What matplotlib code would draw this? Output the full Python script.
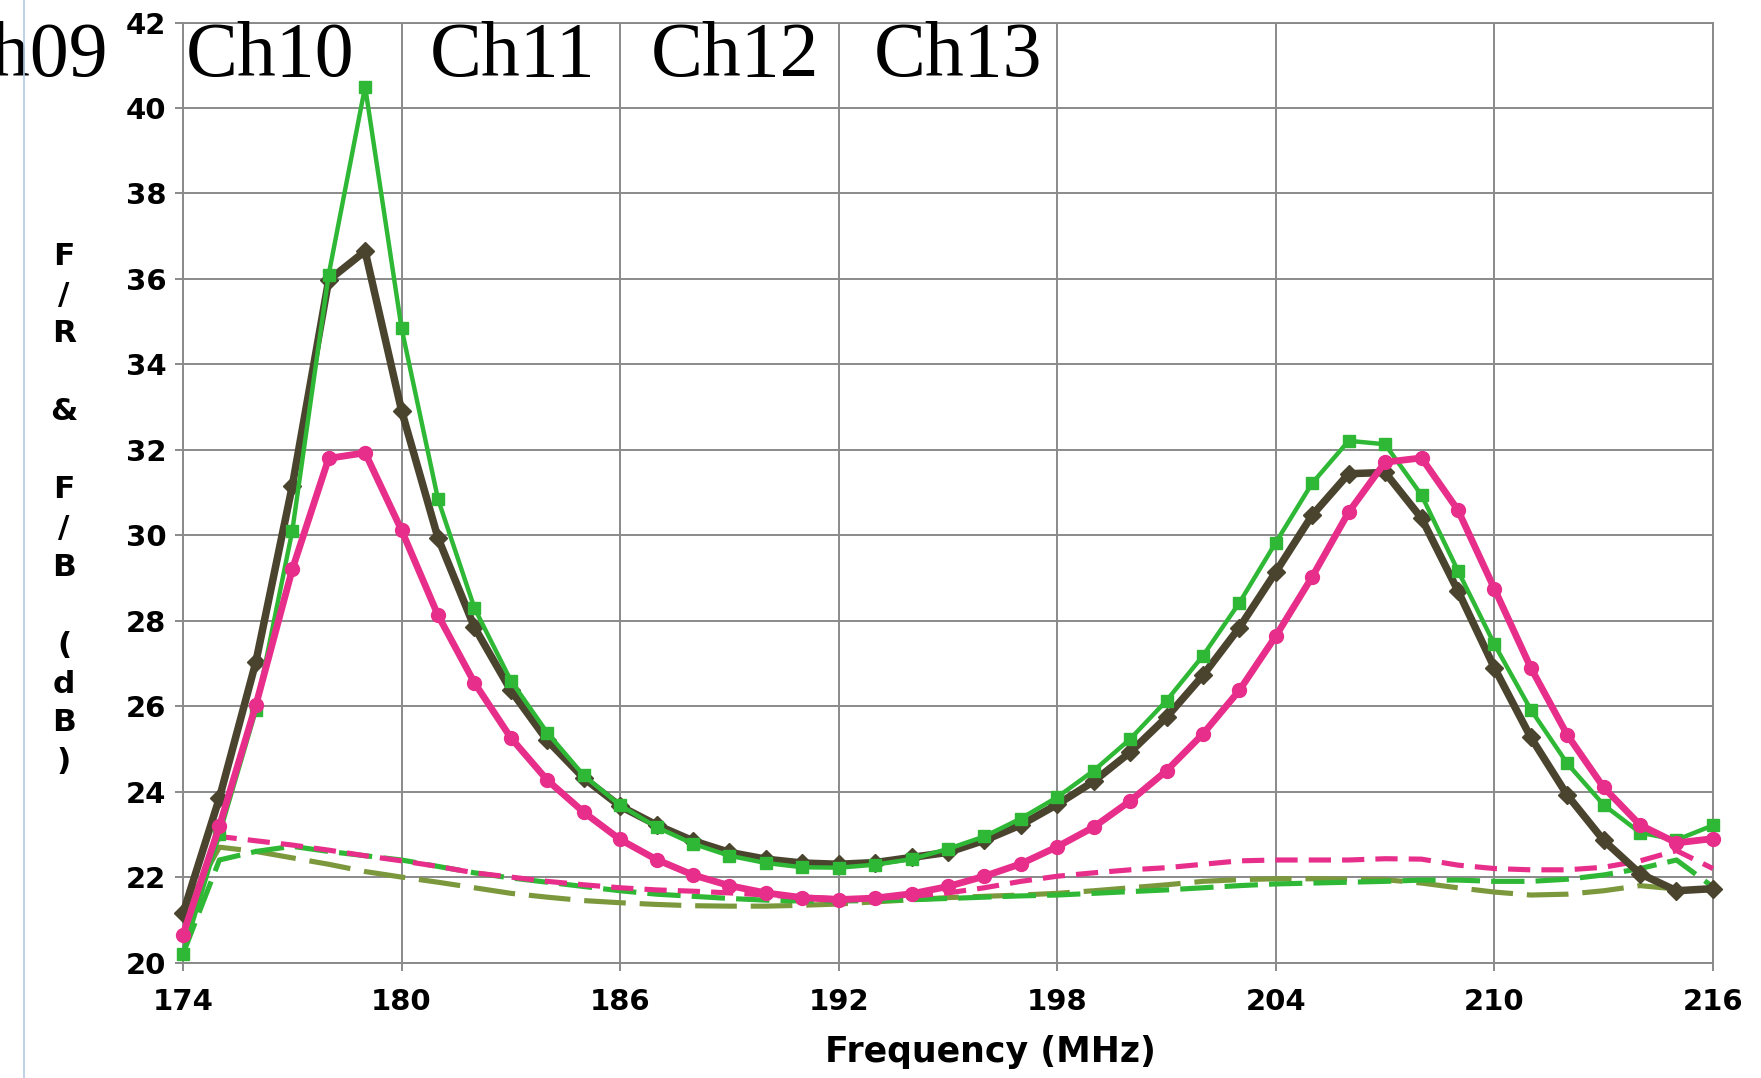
import numpy as np
import matplotlib
matplotlib.use("Agg")
import matplotlib.pyplot as plt
from matplotlib.lines import Line2D

plt.rcParams["font.family"] = ["DejaVu Sans"]
plt.rcParams["lines.scale_dashes"] = False

freq = list(range(174, 217))

# solid traces (markers on every point)
green_solid = [20.2, 23.0, 25.9, 30.1, 36.1, 40.5, 34.85, 30.85, 28.3, 26.6,
               25.38, 24.38, 23.68, 23.17, 22.78, 22.5, 22.33, 22.23, 22.22, 22.29,
               22.42, 22.66, 22.95, 23.37, 23.87, 24.49, 25.23, 26.13, 27.18, 28.42,
               29.83, 31.22, 32.21, 32.13, 30.94, 29.17, 27.45, 25.92, 24.66, 23.69,
               23.04, 22.87, 23.21]
dark_solid = [21.15, 23.85, 27.03, 31.15, 35.97, 36.65, 32.92, 29.94, 27.85, 26.37,
              25.2, 24.32, 23.66, 23.22, 22.85, 22.58, 22.42, 22.33, 22.3, 22.34,
              22.46, 22.58, 22.86, 23.22, 23.7, 24.24, 24.92, 25.74, 26.72, 27.84,
              29.14, 30.47, 31.44, 31.47, 30.4, 28.7, 26.9, 25.27, 23.92, 22.86,
              22.08, 21.68, 21.73]
pink_solid = [20.65, 23.19, 26.02, 29.2, 31.8, 31.93, 30.12, 28.13, 26.55, 25.26,
              24.27, 23.52, 22.88, 22.41, 22.05, 21.8, 21.63, 21.52, 21.47, 21.51,
              21.61, 21.78, 22.02, 22.31, 22.71, 23.17, 23.78, 24.49, 25.35, 26.37,
              27.64, 29.03, 30.54, 31.71, 31.81, 30.59, 28.75, 26.9, 25.33, 24.1,
              23.22, 22.8, 22.9]

# dashed traces
pink_dashed = [20.65, 22.95, 22.85, 22.75, 22.63, 22.5, 22.38, 22.25, 22.1, 22.0,
               21.9, 21.82, 21.75, 21.7, 21.67, 21.63, 21.58, 21.53, 21.5, 21.5,
               21.55, 21.63, 21.75, 21.9, 22.02, 22.1, 22.17, 22.22, 22.3, 22.38,
               22.4, 22.4, 22.4, 22.43, 22.42, 22.28, 22.2, 22.17, 22.17, 22.23,
               22.38, 22.62, 22.2]
green_dashed = [20.2, 22.4, 22.6, 22.72, 22.6, 22.5, 22.4, 22.25, 22.1, 21.98,
                21.88, 21.78, 21.68, 21.6, 21.55, 21.5, 21.46, 21.44, 21.44, 21.45,
                21.47, 21.5, 21.53, 21.56, 21.58, 21.62, 21.66, 21.7, 21.75, 21.8,
                21.84, 21.86, 21.88, 21.9, 21.93, 21.93, 21.9, 21.9, 21.95, 22.05,
                22.2, 22.4, 21.77]
olive_dashed = [21.15, 22.7, 22.6, 22.45, 22.3, 22.13, 22.0, 21.88, 21.75, 21.62,
                21.53, 21.45, 21.4, 21.36, 21.33, 21.32, 21.32, 21.34, 21.37, 21.42,
                21.47, 21.52, 21.55, 21.58, 21.62, 21.68, 21.75, 21.82, 21.9, 21.94,
                21.96, 21.96, 21.95, 21.94, 21.86, 21.75, 21.65, 21.58, 21.6, 21.68,
                21.8, 21.72, 21.7]

channels = ["Ch09", "Ch10", "Ch11", "Ch12", "Ch13"]
channel_x = [171.94, 174.09, 180.78, 186.83, 192.96]

GREEN = "#2fb835"
DARK = "#4a432e"
PINK = "#e62e8a"
OLIVE = "#7b983c"
GRID = "#8a8a8a"

fig = plt.figure(figsize=(17.61, 10.78), dpi=100)
ax = fig.add_axes([0.1039, 0.1071, 0.8688, 0.872])

ax.plot(freq, olive_dashed, color=OLIVE, lw=3.7, dashes=(30, 10),
        clip_on=False, zorder=3)
ax.plot(freq, green_dashed, color=GREEN, lw=3.7, dashes=(24, 8),
        clip_on=False, zorder=3)
ax.plot(freq, pink_dashed, color=PINK, lw=3.7, dashes=(16, 8),
        clip_on=False, zorder=3)

ax.plot(freq, dark_solid, color=DARK, lw=5.4, marker="D", ms=9,
        clip_on=False, zorder=4)
ax.plot(freq, green_solid, color=GREEN, lw=3.2, marker="s", ms=8.5,
        clip_on=False, zorder=5)
ax.plot(freq, pink_solid, color=PINK, lw=4.9, marker="o", ms=10,
        clip_on=False, zorder=6)

ax.set_xlim(174, 216)
ax.set_ylim(20, 42)
ax.set_xticks(range(174, 217, 6))
ax.set_yticks(range(20, 43, 2))
ax.grid(True, color=GRID, lw=1.4)
ax.set_axisbelow(True)
for sp in ax.spines.values():
    sp.set_color(GRID)
    sp.set_linewidth(1.4)
ax.tick_params(axis="both", colors=GRID, length=6, width=1.4,
               labelcolor="black", labelsize=21)
ax.tick_params(axis="x", pad=12)
ax.tick_params(axis="y", pad=6)
for lab in ax.get_xticklabels() + ax.get_yticklabels():
    lab.set_fontweight("bold")

for name, x in zip(channels, channel_x):
    ax.text(x, 40.74, name, family="Liberation Serif", fontsize=56,
            ha="right" if name == "Ch09" else "left", va="baseline",
            clip_on=False, zorder=7)

fig.text(0.5627, 0.024, "Frequency (MHz)", ha="center", va="center",
         fontsize=25, fontweight="bold")
fig.text(64 / 1761, 1 - 509 / 1078, "F\n/\nR\n\n&\n\nF\n/\nB\n\n(\nd\nB\n)",
         ha="center", va="center", fontsize=22.5, fontweight="bold",
         linespacing=1.43)

fig.add_artist(Line2D([0.0134, 0.0134], [0, 1], color="#b3c9e3", lw=1.2,
                      transform=fig.transFigure))

fig.savefig("out.png", dpi=100)
